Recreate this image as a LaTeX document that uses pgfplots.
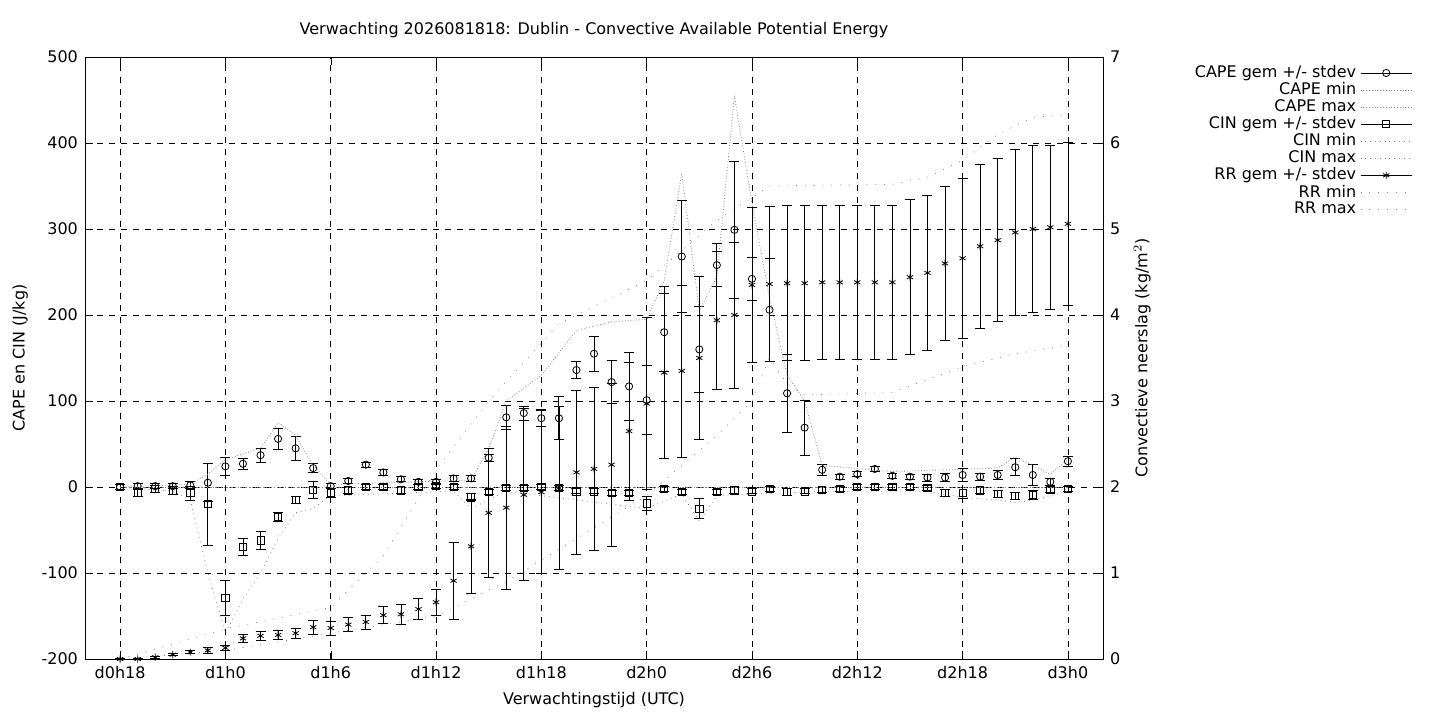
\documentclass[border=0pt]{standalone}
\usepackage{pgfplots}
\pgfplotsset{compat=1.18}
\usepackage{pgfplotstable}
\usepackage{fontspec}
\setmainfont{DejaVu Sans}
\pgfplotstableread{
h cape ce cin ne rr re
0 0 3 0 3 0 0.01
1 1 3 -7 4 0 0.01
2 1 3 -2 4 0.02 0.01
3 1 3 -4 5 0.05 0.01
4 2 4 -7 8 0.08 0.02
5 5 22 -20 48 0.10 0.03
6 24 10 -129 20 0.13 0.03
7 27 6 -70 10 0.24 0.05
8 37 8 -62 10 0.27 0.05
9 56 12 -35 5 0.28 0.05
10 45 14 -15 4 0.30 0.06
11 22 5 -3 10 0.37 0.08
12 1 3 -7 5 0.36 0.08
13 7 3 -4 3 0.40 0.08
14 26 3 0 3 0.43 0.08
15 17 3 0 3 0.51 0.1
16 9 3 -4 3 0.52 0.12
17 6 3 0 3 0.58 0.12
18 6 3 1 3 0.66 0.15
19 10 3 0 3 0.91 0.45
20 10 3 -12 4 1.31 0.55
21 34 4 -6 3 1.70 0.75
22 81 14 -1 3 1.76 0.95
23 86 8 -1 3 1.91 1.0
24 80 10 0 3 1.94 0.95
25 80 25 -1 3 1.99 0.95
26 136 10 -5 3 2.17 0.95
27 155 20 -5 3 2.21 0.95
28 122 25 -7 3 2.26 0.95
29 117 40 -7 3 2.65 0.8
30 101 40 -19 8 2.97 1.0
31 180 45 -2 3 3.33 1.0
32 268 65 -6 3 3.35 1.0
33 160 50 -25 12 3.50 0.95
34 258 25 -6 3 3.94 0.8
35 299 80 -4 3 4.00 0.85
36 242 25 -5 3 4.35 0.9
37 206 60 -2 3 4.36 0.9
38 109 45 -6 4 4.37 0.9
39 69 32 -5 3 4.37 0.9
40 20 6 -3 3 4.38 0.9
41 12 3 -2 3 4.38 0.9
42 15 3 0 3 4.38 0.9
43 21 3 0 3 4.38 0.9
44 13 3 0 3 4.38 0.9
45 12 3 0 3 4.44 0.9
46 11 4 -1 3 4.49 0.9
47 11 5 -7 4 4.60 0.9
48 14 8 -7 6 4.66 0.93
49 12 4 -4 3 4.80 0.95
50 14 5 -8 4 4.87 0.95
51 23 10 -10 4 4.96 0.97
52 14 12 -9 5 5.00 0.97
53 6 4 -3 3 5.02 0.95
54 30 6 -2 3 5.06 0.95
}\data
\begin{document}
\begin{tikzpicture}[font=\fontsize{8}{9.6}\selectfont]
\path[use as bounding box] (0,0) rectangle (720pt,360pt);
\pgfplotsset{every axis/.append style={scale only axis, width=509pt, height=301pt,
  at={(42.5pt,30.5pt)}, anchor=south west, xmin=-2, xmax=56,
  /pgf/number format/assume math mode=true,
  tick style={black}, major tick length=4pt, tick align=inside}}
\begin{axis}[ymin=-200, ymax=500, ytick={-200,-100,...,500},
  xtick={0,6,...,54}, xticklabels={d0h18,d1h0,d1h6,d1h12,d1h18,d2h0,d2h6,d2h12,d2h18,d3h0},
  ytick pos=left, xtick pos=both,
  grid=major, major grid style={black, dashed, line width=0.4pt},
  ylabel={CAPE en CIN (J/kg)}, xlabel={Verwachtingstijd (UTC)},
  title={Verwachting 2026081818: Dublin - Convective Available Potential Energy},
  title style={yshift=0pt},
  error bars/error bar style={black}, error bars/error mark options={rotate=90, mark size=2.5pt, black}]
\addplot[black, only marks, mark=o, mark size=1.8pt, error bars/.cd, y dir=both, y explicit]
  table[x=h, y=cape, y error=ce]{\data};
\addplot[black, only marks, mark=square, mark size=1.8pt, error bars/.cd, y dir=both, y explicit]
  table[x=h, y=cin, y error=ne]{\data};
\addplot[gray, densely dotted, no marks] coordinates {(0,0)(54,0)};
\addplot[gray, densely dotted, no marks] coordinates {(0,0)(4,3)(5,15)(6,32)(8,45)(9,75)(10,60)(11,25)(12,3)(20,8)(21,45)(22,100)(24,130)(26,182)(28,192)(30,195)(31,240)(32,365)(33,205)(34,245)(35,455)(36,330)(37,220)(38,130)(39,100)(40,25)(44,18)(50,22)(51,35)(53,15)(54,32)};
\addplot[gray, dotted, no marks] coordinates {(0,0)(3,-5)(4,-15)(5,-100)(6,-170)(7,-130)(8,-100)(9,-60)(10,-30)(11,-25)(12,-10)(19,-5)(20,-25)(22,-5)(30,-25)(32,-8)(33,-40)(34,-10)(40,-5)(46,-5)(48,-12)(50,-15)(51,-18)(52,-15)(54,-5)};
\addplot[gray, dotted, no marks] coordinates {(0,0)(54,0)};
\end{axis}
\begin{axis}[ymin=0, ymax=7, ytick={0,1,...,7}, axis y line*=right, axis x line=none,
  ylabel={Convectieve neerslag (kg/m$^2$)},
  legend style={at={(1.08,1.0)}, anchor=north west, draw=none, fill=none, legend cell align=right,
    row sep=-3pt, font=\fontsize{8}{9.6}\selectfont},
  legend plot pos=right,
  legend image code/.code={\draw[#1] (0cm,0cm) -- (0.9cm,0cm); \path[#1, only marks] plot coordinates {(0.45cm,0cm)};},
  error bars/error bar style={black}, error bars/error mark options={rotate=90, mark size=2.5pt, black}]
\addlegendimage{black, mark=o, mark size=1.8pt}\addlegendentry{CAPE gem +/- stdev}
\addlegendimage{gray, densely dotted}\addlegendentry{CAPE min}
\addlegendimage{gray, densely dotted}\addlegendentry{CAPE max}
\addlegendimage{black, mark=square, mark size=1.8pt}\addlegendentry{CIN gem +/- stdev}
\addlegendimage{gray, dotted}\addlegendentry{CIN min}
\addlegendimage{gray, dotted}\addlegendentry{CIN max}
\addlegendimage{black, mark=asterisk, mark size=1.8pt}\addlegendentry{RR gem +/- stdev}
\addlegendimage{gray, loosely dotted}\addlegendentry{RR min}
\addlegendimage{gray, loosely dotted}\addlegendentry{RR max}
\addplot[black, only marks, mark=asterisk, mark size=1.8pt, forget plot, error bars/.cd, y dir=both, y explicit]
  table[x=h, y=rr, y error=re]{\data};
\addplot[gray, loosely dotted, no marks, forget plot] coordinates {(0,0)(6,0.1)(12,0.3)(18,0.5)(22,0.9)(26,1.4)(30,1.9)(34,2.6)(36,3.0)(37,3.5)(38,3.2)(39,3.07)(44,3.1)(46,3.25)(48,3.4)(51,3.55)(54,3.65)};
\addplot[gray, loosely dotted, no marks, forget plot] coordinates {(0,0)(6,0.35)(12,0.6)(15,1.2)(18,2.2)(21,3.0)(25,3.9)(30,4.4)(34,5.1)(37,5.5)(44,5.52)(46,5.6)(48,5.8)(50,6.1)(52,6.3)(54,6.33)};
\end{axis}
\end{tikzpicture}
\end{document}
